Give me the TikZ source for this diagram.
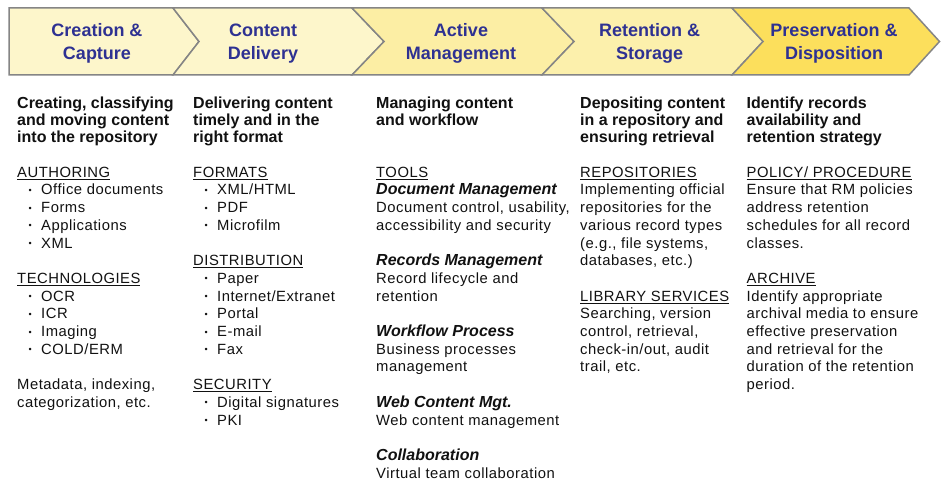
\documentclass[tikz,border=0pt]{standalone}
\usepackage{fontspec}
\setmainfont{Liberation Sans}
\newfontfamily\bodyfont[LetterSpace=3.5]{Liberation Sans}
\definecolor{chevgray}{HTML}{858585}
\definecolor{hdrblue}{HTML}{2E3192}
\definecolor{fillA}{HTML}{FDF6CB}
\definecolor{fillB}{HTML}{FCEEA4}
\definecolor{fillC}{HTML}{FCF0AC}
\definecolor{fillD}{HTML}{FCDF5C}
\definecolor{txt}{HTML}{111111}
\newcommand\ulsec[1]{\setbox0\hbox{#1}\rlap{\rule[-2.4pt]{\wd0}{0.9pt}}\box0}
\newcommand\bitem[1]{\makebox[24pt][l]{\hspace{11.5pt}\raisebox{1.5pt}{\fontsize{9}{9}\selectfont\char"2022}}#1}
\newcommand\subhd[1]{{\fontsize{16}{17.7}\selectfont\rmfamily\bfseries\itshape #1}}
\newcommand\fs{\rule{0pt}{14pt}}
\begin{document}
\begin{tikzpicture}[x=1pt,y=-1pt,
  chev/.style={draw=chevgray, line width=1.5pt, line join=miter},
  chevlabel/.style={anchor=north, align=center, text=hdrblue, inner sep=0pt,
    font=\fontsize{18}{22.6}\selectfont\bfseries},
  colhead/.style={anchor=north west, align=left, inner sep=0pt, text=txt,
    font=\fontsize{16}{17.3}\selectfont\bfseries},
  colbody/.style={anchor=north west, align=left, inner sep=0pt, text=txt,
    font=\bodyfont\fontsize{14.8}{17.7}\selectfont}]
\useasboundingbox (0,0) rectangle (947,481);
\fill[white] (0,0) rectangle (947,481);

% chevrons
\draw[chev, fill=fillA] (9,8) -- (173,8) -- (199,41.5) -- (173,75) -- (9,75) -- cycle;
\draw[chev, fill=fillA] (173,8) -- (352,8) -- (384,41.5) -- (352,75) -- (173,75) -- (199,41.5) -- cycle;
\draw[chev, fill=fillB] (352,8) -- (542,8) -- (574,41.5) -- (542,75) -- (352,75) -- (384,41.5) -- cycle;
\draw[chev, fill=fillC] (542,8) -- (732,8) -- (763,41.5) -- (732,75) -- (542,75) -- (574,41.5) -- cycle;
\draw[chev, fill=fillD] (732,8) -- (909,8) -- (939.5,41.5) -- (909,75) -- (732,75) -- (763,41.5) -- cycle;

\node[chevlabel] (h1) at (97,20.7)   {\rule{0pt}{16pt}Creation \&\\Capture};
\node[chevlabel] (h2) at (263,20.7)  {\rule{0pt}{16pt}Content\\Delivery};
\node[chevlabel] (h3) at (461,20.7)  {\rule{0pt}{16pt}Active\\Management};
\node[chevlabel] (h4) at (649.6,20.7){\rule{0pt}{16pt}Retention \&\\Storage};
\node[chevlabel] (h5) at (834,20.7)  {\rule{0pt}{16pt}Preservation \&\\Disposition};

% column headings
\node[colhead] (t1) at (17,94)  {\fs Creating, classifying\\and moving content\\into the repository};
\node[colhead] (t2) at (193,94) {\fs Delivering content\\timely and in the\\right format};
\node[colhead] (t3) at (376,94) {\fs Managing content\\and workflow};
\node[colhead] (t4) at (580,94) {\fs Depositing content\\in a repository and\\ensuring retrieval};
\node[colhead] (t5) at (746.5,94) {\fs Identify records\\availability and\\retention strategy};

% column bodies
\node[colbody] (b1) at (17,163) {\fs\ulsec{AUTHORING}\\
\bitem{Office documents}\\
\bitem{Forms}\\
\bitem{Applications}\\
\bitem{XML}\\[17.7pt]
\ulsec{TECHNOLOGIES}\\
\bitem{OCR}\\
\bitem{ICR}\\
\bitem{Imaging}\\
\bitem{COLD/ERM}\\[17.7pt]
Metadata, indexing,\\
categorization, etc.};

\node[colbody] (b2) at (193,163) {\fs\ulsec{FORMATS}\\
\bitem{XML/HTML}\\
\bitem{PDF}\\
\bitem{Microfilm}\\[17.7pt]
\ulsec{DISTRIBUTION}\\
\bitem{Paper}\\
\bitem{Internet/Extranet}\\
\bitem{Portal}\\
\bitem{E-mail}\\
\bitem{Fax}\\[17.7pt]
\ulsec{SECURITY}\\
\bitem{Digital signatures}\\
\bitem{PKI}};

\node[colbody] (b3) at (376,163) {\fs\ulsec{TOOLS}\\
\subhd{Document Management}\\
Document control, usability,\\
accessibility and security\\[17.7pt]
\subhd{Records Management}\\
Record lifecycle and\\
retention\\[17.7pt]
\subhd{Workflow Process}\\
Business processes\\
management\\[17.7pt]
\subhd{Web Content Mgt.}\\
Web content management\\[17.7pt]
\subhd{Collaboration}\\
Virtual team collaboration};

\node[colbody] (b4) at (580,163) {\fs\ulsec{REPOSITORIES}\\
Implementing official\\
repositories for the\\
various record types\\
(e.g., file systems,\\
databases, etc.)\\[17.7pt]
\ulsec{LIBRARY SERVICES}\\
Searching, version\\
control, retrieval,\\
check-in/out, audit\\
trail, etc.};

\node[colbody] (b5) at (746.5,163) {\fs\ulsec{POLICY/ PROCEDURE}\\
Ensure that RM policies\\
address retention\\
schedules for all record\\
classes.\\[17.7pt]
\ulsec{ARCHIVE}\\
Identify appropriate\\
archival media to ensure\\
effective preservation\\
and retrieval for the\\
duration of the retention\\
period.};
\end{tikzpicture}
\end{document}
